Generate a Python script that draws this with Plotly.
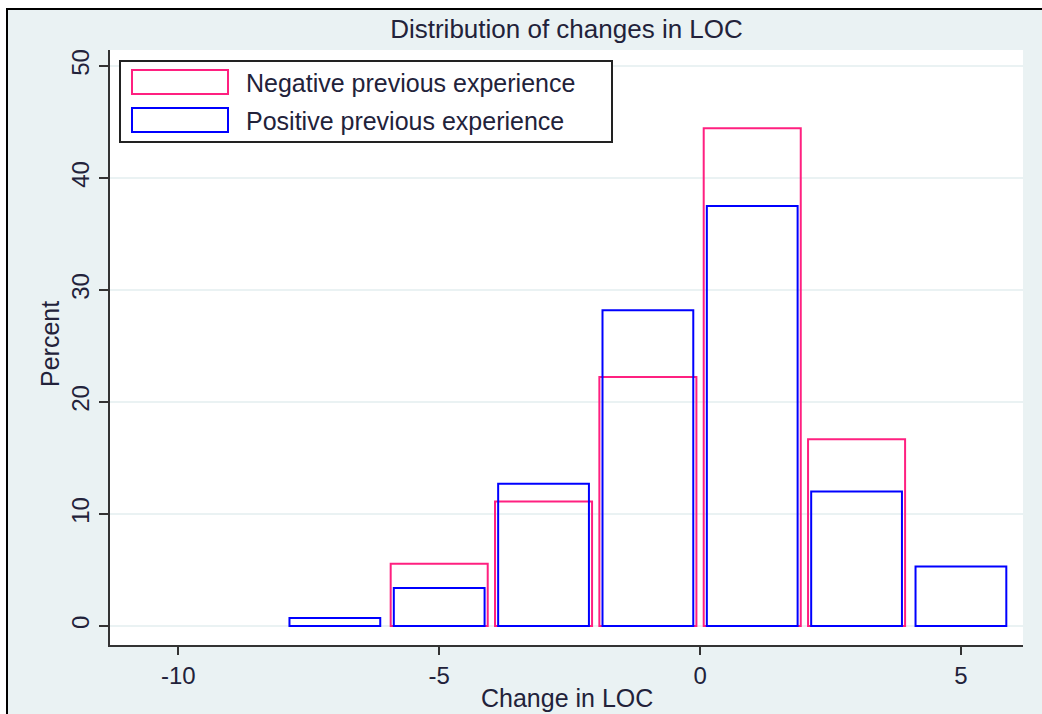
import plotly.graph_objects as go

# ---- data ----
bin_centers = [-7, -5, -3, -1, 1, 3, 5]
negative_pct = [None, 5.56, 11.11, 22.22, 44.44, 16.67, None]
positive_pct = [0.7, 3.4, 12.7, 28.2, 37.5, 12.0, 5.3]
series_names = ["Negative previous experience", "Positive previous experience"]
x_ticks = [-10, -5, 0, 5]
y_ticks = [0, 10, 20, 30, 40, 50]

W, H = 1042, 714
L, R, T, B = 110, 1023, 50, 645
PINK = "#ff2080"
BLUE = "#0000ff"
TXT = "#22223a"
BG = "#eaf2f3"
FONT = "Liberation Sans, Arial, sans-serif"


def px(x):
    return (x - L) / (R - L)


def py(y):
    return (B - y) / (B - T)


fig = go.Figure()
fig.add_trace(go.Bar(x=bin_centers, y=negative_pct, width=1.86, name=series_names[0],
                     marker=dict(color="rgba(0,0,0,0)", line=dict(color=PINK, width=2)),
                     showlegend=False))
fig.add_trace(go.Bar(x=bin_centers, y=positive_pct, width=1.74, name=series_names[1],
                     marker=dict(color="rgba(0,0,0,0)", line=dict(color=BLUE, width=2)),
                     showlegend=False))

shapes = []
# outer frame background
shapes.append(dict(type="rect", xref="paper", yref="paper",
                   x0=px(7), x1=px(W + 20), y0=py(9), y1=py(H + 20),
                   fillcolor=BG, line=dict(color="black", width=2), layer="below"))
# plot area white
shapes.append(dict(type="rect", xref="paper", yref="paper",
                   x0=0, x1=1, y0=0, y1=1, fillcolor="white", line=dict(width=0), layer="below"))
# legend box
shapes.append(dict(type="rect", xref="paper", yref="paper",
                   x0=px(120), x1=px(612), y0=py(61), y1=py(142),
                   fillcolor="white", line=dict(color="#222222", width=2)))
shapes.append(dict(type="rect", xref="paper", yref="paper",
                   x0=px(132), x1=px(228), y0=py(70), y1=py(94),
                   fillcolor="white", line=dict(color=PINK, width=2)))
shapes.append(dict(type="rect", xref="paper", yref="paper",
                   x0=px(132), x1=px(228), y0=py(108), y1=py(132),
                   fillcolor="white", line=dict(color=BLUE, width=2)))

annotations = [
    dict(text=series_names[0], xref="paper", yref="paper", x=px(244), y=py(83),
         xanchor="left", yanchor="middle", showarrow=False, font=dict(size=25, color=TXT, family=FONT)),
    dict(text=series_names[1], xref="paper", yref="paper", x=px(244), y=py(121),
         xanchor="left", yanchor="middle", showarrow=False, font=dict(size=25, color=TXT, family=FONT)),
    dict(text="Percent", xref="paper", yref="paper", x=px(50), y=py(344), textangle=-90,
         xanchor="center", yanchor="middle", showarrow=False, font=dict(size=25, color=TXT, family=FONT)),
    dict(text="Change in LOC", xref="paper", yref="paper", x=px(567), y=py(698),
         xanchor="center", yanchor="middle", showarrow=False, font=dict(size=25, color=TXT, family=FONT)),
]

fig.update_layout(
    width=W, height=H,
    margin=dict(l=L, r=W - R, t=T, b=H - B, pad=0),
    paper_bgcolor="white", plot_bgcolor="rgba(0,0,0,0)",
    barmode="overlay",
    title=dict(text="Distribution of changes in LOC", x=0.5, xref="paper",
               y=1 - 29 / H, yref="container", xanchor="center", yanchor="middle",
               font=dict(size=26, color=TXT, family=FONT)),
    shapes=shapes, annotations=annotations,
    font=dict(family=FONT, color=TXT, size=25),
)
fig.update_xaxes(range=[-11.31, 6.19], tickvals=x_ticks, ticktext=[str(v) for v in x_ticks],
                 showgrid=False, zeroline=False, showline=True, linecolor="#333333", linewidth=2,
                 ticks="outside", ticklen=8, tickwidth=2, tickcolor="#333333",
                 tickfont=dict(size=24, color=TXT, family=FONT))
fig.update_yaxes(range=[-1.70, 51.43], tickvals=y_ticks, ticktext=[str(v) for v in y_ticks],
                 showgrid=True, gridcolor=BG, gridwidth=2, zeroline=False,
                 showline=True, linecolor="#333333", linewidth=2,
                 ticks="outside", ticklen=9, tickwidth=2, tickcolor="#333333", tickangle=-90,
                 tickfont=dict(size=24, color=TXT, family=FONT))

fig.write_html("out.html", config={"displayModeBar": False},
               post_script="document.body.style.margin='0';document.body.style.overflow='hidden';")
